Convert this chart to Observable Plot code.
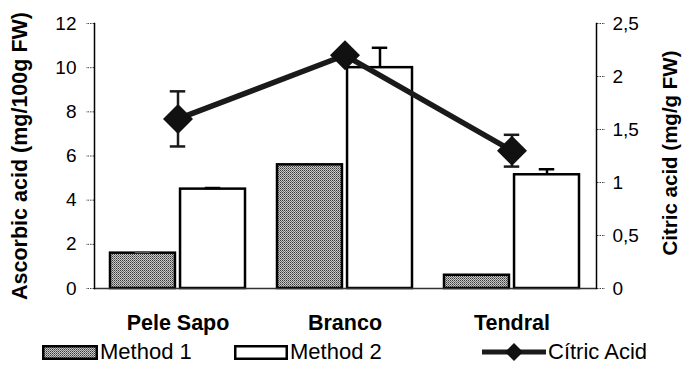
<!DOCTYPE html>
<html><head><meta charset="utf-8">
<script src="https://cdn.jsdelivr.net/npm/d3@7"></script>
<script src="https://cdn.jsdelivr.net/npm/@observablehq/plot@0.6"></script>
<style>
html,body{margin:0;padding:0;background:#fff;}
body{width:682px;height:367px;overflow:hidden;font-family:"Liberation Sans",Arial,sans-serif;}
#wrap{position:relative;width:682px;height:367px;}
#legend{position:absolute;left:0;top:337px;width:682px;height:30px;}
.item{position:absolute;top:0;height:30px;display:flex;align-items:center;font-size:22px;color:#000;}
.item svg{display:block;margin-right:2px;}
</style></head><body>
<svg width="0" height="0" style="position:absolute">
  <defs>
    <pattern id="stipple" width="2" height="2" patternUnits="userSpaceOnUse">
      <rect width="2" height="2" fill="#c8c8c8"/>
      <rect x="0" y="0" width="1" height="1" fill="#3a3a3a"/>
      <rect x="1" y="1" width="1" height="1" fill="#707070"/>
    </pattern>
  </defs>
</svg>
<div id="wrap"><div id="chart"></div><div id="legend"></div></div>
<script>
const categories = ["Pele Sapo", "Branco", "Tendral"];
const method1 = [1.6, 5.6, 0.6];
const method1Err = [0.04, 0, 0];
const method2 = [4.5, 10.0, 5.15];
const method2Err = [0.05, 0.9, 0.25];
const citric = [1.6, 2.2, 1.3];
const citricErr = [0.26, 0.03, 0.15];
const leftTicks = [0, 2, 4, 6, 8, 10, 12];
const rightTicks = [0, 0.5, 1, 1.5, 2, 2.5];
const seriesNames = ["Method 1", "Method 2", "Cítric Acid"];
const leftTitle = "Ascorbic acid (mg/100g FW)";
const rightTitle = "Citric acid (mg/g FW)";

const ratio = 12 / 2.5; // right axis max 2.5 aligned with left axis max 12
const rows = categories.map((c, i) => ({
  cat: c,
  m1: method1[i], m1e: method1Err[i],
  m2: method2[i], m2e: method2Err[i],
  ca: citric[i] * ratio, cae: citricErr[i] * ratio
}));

const W = 682, H = 335, mL = 94, mR = 86, mT = 23, mB = 47;
const step = (W - mL - mR) / 3;
const bw = step * 0.81;
const barW = 65.5;
const capInset = (bw - 16) / 2;
const off = 35;
const font = "Liberation Sans, Arial, sans-serif";
const tickStyle = {stroke: "#444", strokeDasharray: "1.5,1"};

const chart = Plot.plot({
  width: W, height: H,
  marginTop: mT, marginBottom: mB, marginLeft: mL, marginRight: mR,
  style: {fontFamily: font, color: "#000", background: "#fff", overflow: "visible"},
  x: {domain: categories, paddingInner: 0.19, paddingOuter: 0.095, axis: null},
  y: {domain: [0, 12], axis: null},
  marks: [
    Plot.barY(rows, {x: "cat", y: "m1", fill: "url(#stipple)", stroke: "#000", strokeWidth: 2.5, insetRight: bw - barW}),
    Plot.barY(rows, {x: "cat", y: "m2", fill: "#fff", stroke: "#000", strokeWidth: 2.5, insetLeft: bw - barW}),
    Plot.ruleY([0], {stroke: "#333", strokeWidth: 1.5}),
    Plot.ruleX(rows.filter(d => d.m1e > 0), {x: "cat", y1: "m1", y2: d => d.m1 + d.m1e, dx: -off, strokeWidth: 2}),
    Plot.tickY(rows.filter(d => d.m1e > 0), {x: "cat", y: d => d.m1 + d.m1e, dx: -off, insetLeft: capInset, insetRight: capInset, strokeWidth: 2, stroke: "#555"}),
    Plot.ruleX(rows, {x: "cat", y1: "m2", y2: d => d.m2 + d.m2e, dx: off, strokeWidth: 2.5}),
    Plot.tickY(rows, {x: "cat", y: d => d.m2 + d.m2e, dx: off, insetLeft: capInset, insetRight: capInset, strokeWidth: 2.5}),
    Plot.line(rows, {x: "cat", y: "ca", stroke: "#1a1a1a", strokeWidth: 5.5}),
    Plot.ruleX(rows, {x: "cat", y1: d => d.ca - d.cae, y2: d => d.ca + d.cae, strokeWidth: 2.5, stroke: "#1a1a1a"}),
    Plot.tickY(rows, {x: "cat", y: d => d.ca + d.cae, insetLeft: capInset, insetRight: capInset, strokeWidth: 2.5, stroke: "#1a1a1a"}),
    Plot.tickY(rows, {x: "cat", y: d => d.ca - d.cae, insetLeft: capInset, insetRight: capInset, strokeWidth: 2.5, stroke: "#1a1a1a"}),
    Plot.dot(rows, {x: "cat", y: "ca", symbol: "diamond2", r: 13.5, fill: "#111", stroke: "none"}),
    Plot.axisY(leftTicks, {anchor: "left", tickSize: 8, tickPadding: 10, fontSize: 19, label: null, ...tickStyle}),
    Plot.axisY(rightTicks.map(v => v * ratio), {anchor: "right", tickSize: 8, tickPadding: 8, fontSize: 19, label: null,
      tickFormat: v => String(+(v / ratio).toFixed(2)).replace(".", ","), ...tickStyle}),
    Plot.axisX({anchor: "bottom", tickSize: 0, tickPadding: 26, fontSize: 21.5, fontWeight: "bold", label: null}),
    Plot.frame({anchor: "left", stroke: "#000", strokeWidth: 1.5}),
    Plot.frame({anchor: "right", stroke: "#000", strokeWidth: 1.5}),
    Plot.text([leftTitle], {frameAnchor: "left", dx: -74, rotate: -90, textAnchor: "middle", fontSize: 21.5, fontWeight: "bold", text: d => d}),
    Plot.text([rightTitle], {frameAnchor: "right", dx: 74, dy: -3, rotate: -90, textAnchor: "middle", fontSize: 20.5, fontWeight: "bold", text: d => d})
  ]
});
document.getElementById("chart").appendChild(chart);

// Legend
const legend = document.getElementById("legend");
const items = [
  {name: seriesNames[0], left: 42, svg: `<svg width="56" height="15"><rect x="1.25" y="1.25" width="53.5" height="12.5" fill="url(#stipple)" stroke="#000" stroke-width="2.5"/></svg>`},
  {name: seriesNames[1], left: 234, svg: `<svg width="54" height="15"><rect x="1.25" y="1.25" width="51.5" height="12.5" fill="#fff" stroke="#000" stroke-width="2.5"/></svg>`},
  {name: seriesNames[2], left: 482, svg: `<svg width="64" height="20"><line x1="0" x2="64" y1="10" y2="10" stroke="#1a1a1a" stroke-width="5"/><path d="M32,1 L41,10 L32,19 L23,10 Z" fill="#111"/></svg>`}
];
for (const it of items) {
  const d = document.createElement("div");
  d.className = "item";
  d.style.left = it.left + "px";
  d.innerHTML = it.svg + `<span>${it.name}</span>`;
  legend.appendChild(d);
}
</script>
</body></html>
